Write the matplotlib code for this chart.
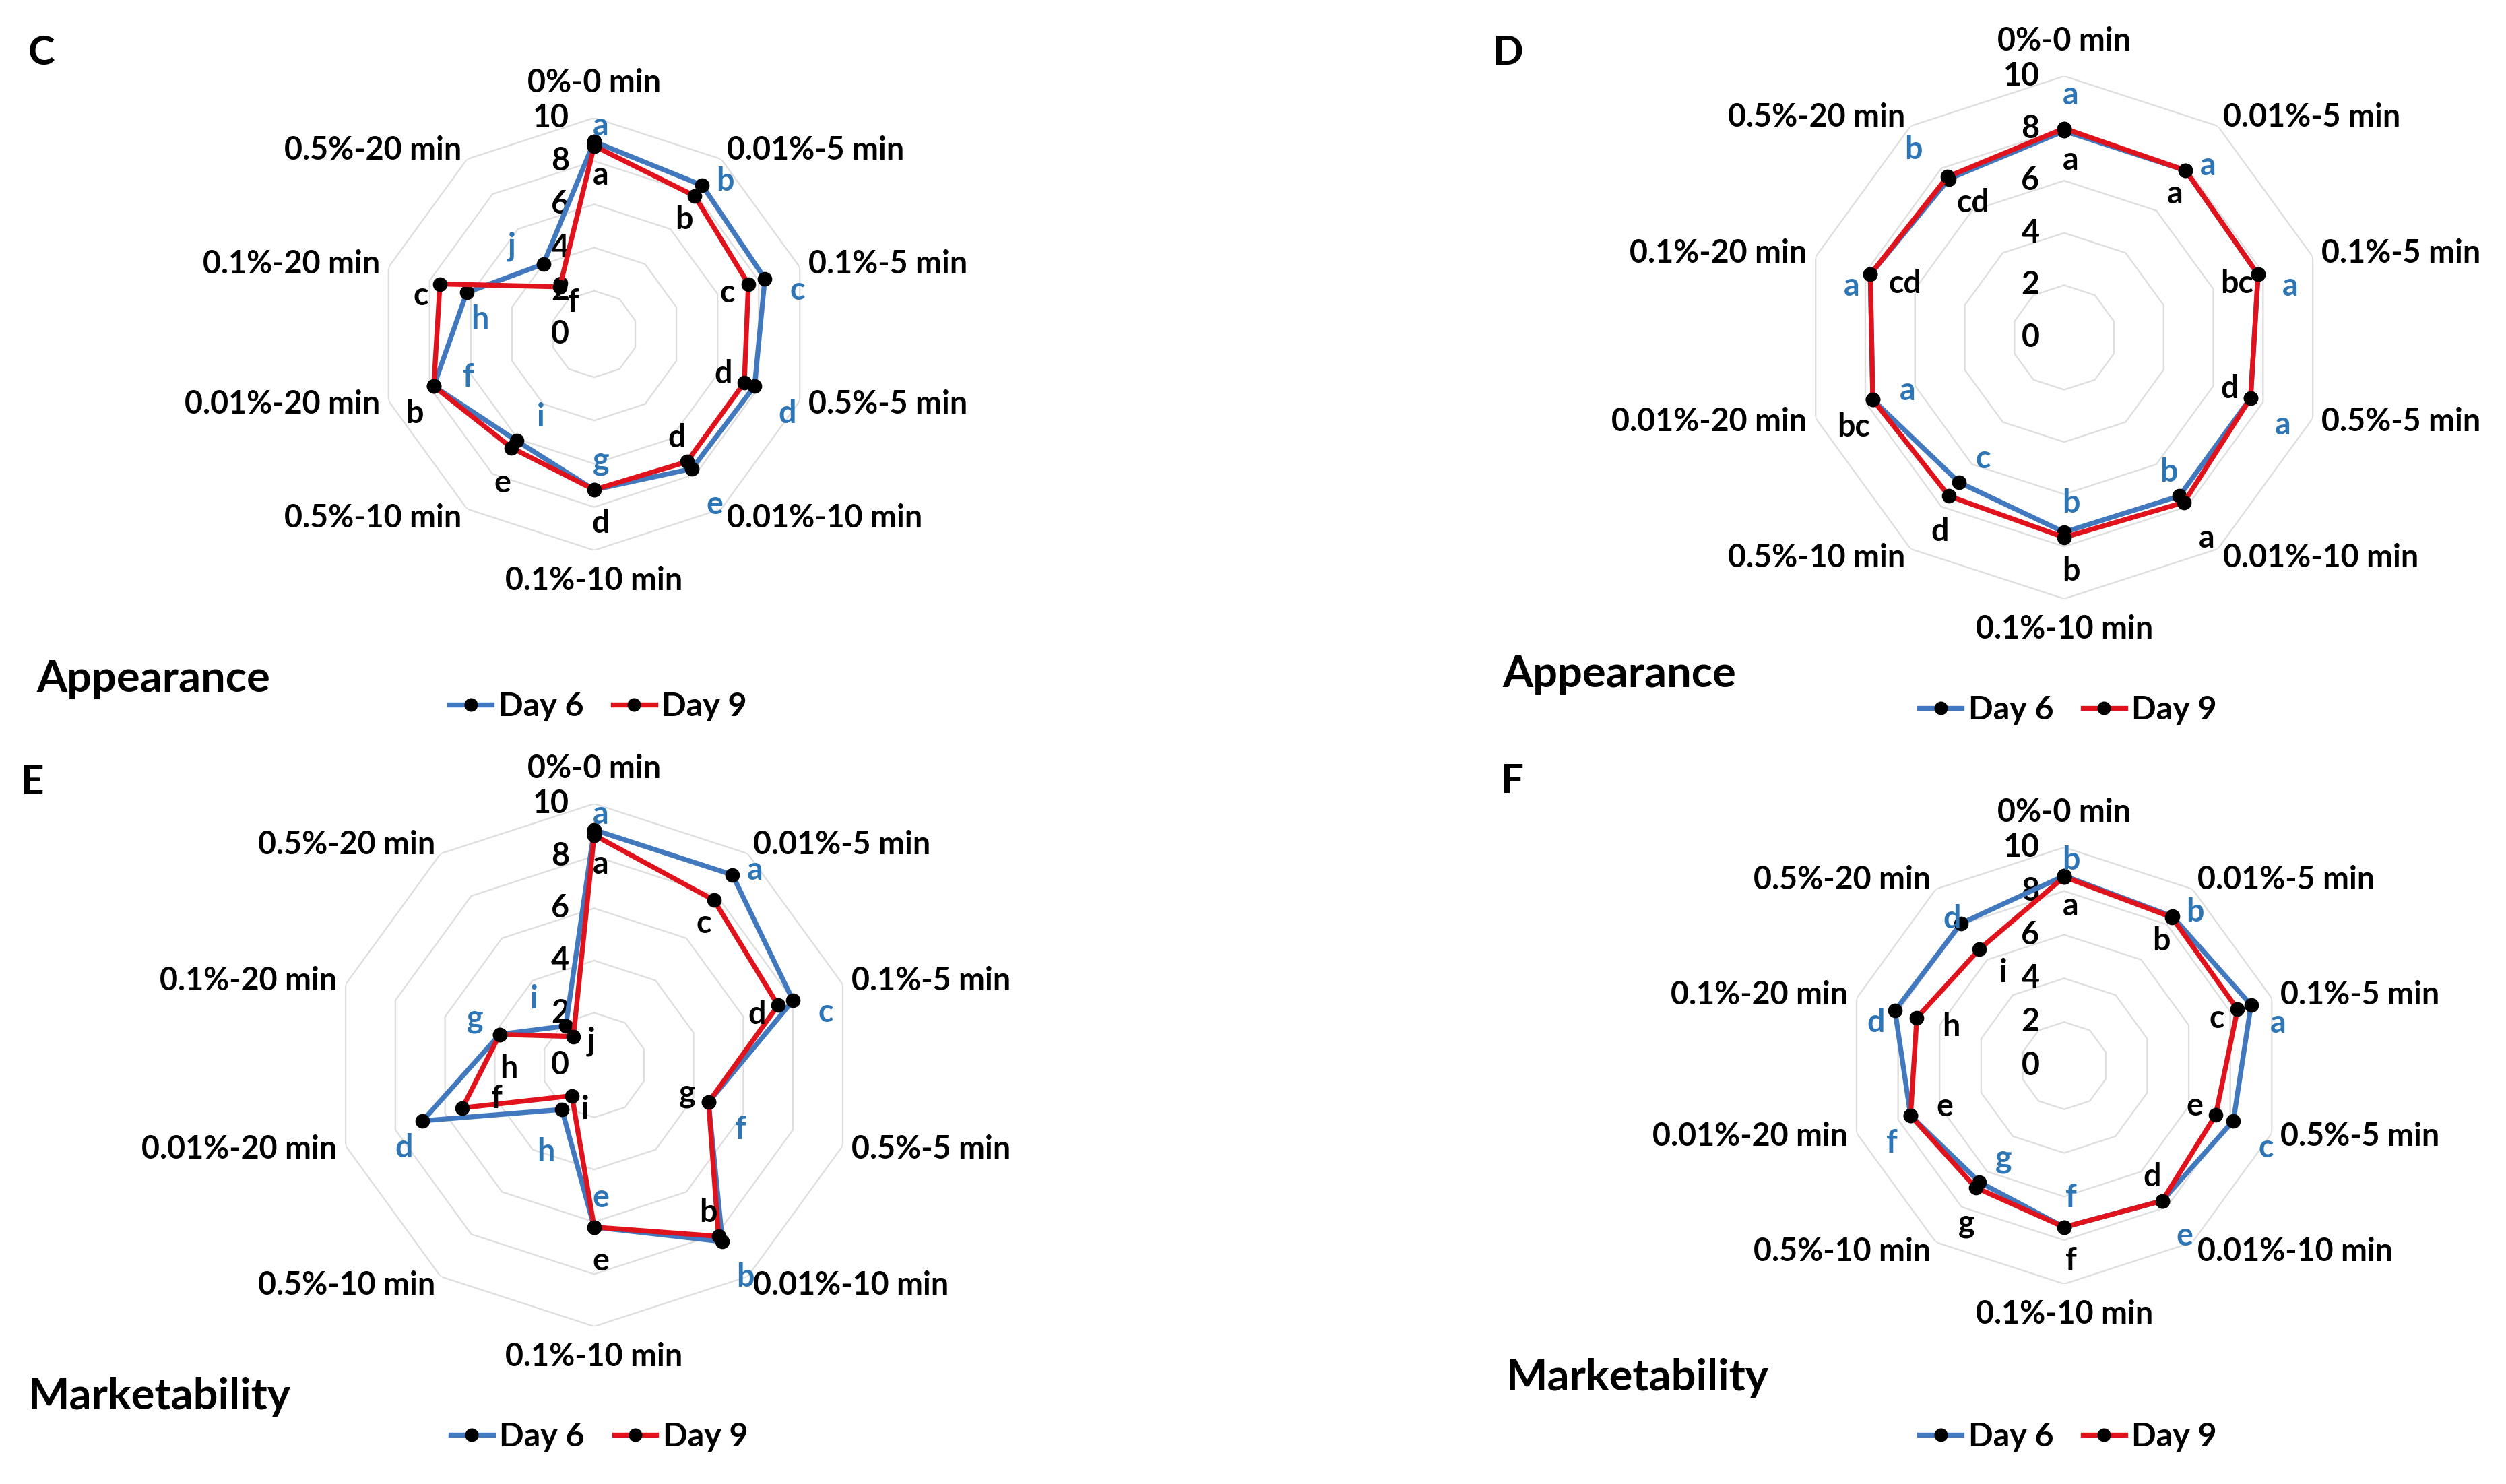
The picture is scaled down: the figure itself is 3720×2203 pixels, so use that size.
import numpy as np
import matplotlib.pyplot as plt
from matplotlib.lines import Line2D

plt.rcParams['font.family'] = ['Lato', 'DejaVu Sans']
plt.rcParams['font.weight'] = 'bold'

categories = ['0%-0 min', '0.01%-5 min', '0.1%-5 min', '0.5%-5 min', '0.01%-10 min',
              '0.1%-10 min', '0.5%-10 min', '0.01%-20 min', '0.1%-20 min', '0.5%-20 min']
ticks = [0, 2, 4, 6, 8, 10]

# C - appearance
C_day6 = [8.9, 8.5, 8.3, 7.8, 7.7, 7.2, 6.1, 7.8, 6.2, 4.0]
C_day9 = [8.7, 7.9, 7.5, 7.3, 7.3, 7.2, 6.5, 7.8, 7.5, 2.7]
C_let6 = ['a', 'b', 'c', 'd', 'e', 'g', 'i', 'f', 'h', 'j']
C_let9 = ['a', 'b', 'c', 'd', 'd', 'd', 'e', 'b', 'c', 'f']

# D - appearance
D_day6 = [7.9, 7.9, 7.8, 7.5, 7.5, 7.45, 6.85, 7.7, 7.8, 7.5]
D_day9 = [8.0, 7.9, 7.8, 7.5, 7.8, 7.65, 7.5, 7.7, 7.8, 7.6]
D_let6 = ['a', 'a', 'a', 'a', 'b', 'b', 'c', 'a', 'a', 'b']
D_let9 = ['a', 'a', 'bc', 'd', 'a', 'b', 'd', 'bc', 'cd', 'cd']

# E - marketability
E_day6 = [9.0, 9.0, 8.0, 4.6, 8.35, 6.2, 2.1, 6.9, 3.8, 1.85]
E_day9 = [8.8, 7.8, 7.4, 4.6, 8.1, 6.2, 1.45, 5.3, 3.8, 1.35]
E_let6 = ['a', 'a', 'c', 'f', 'b', 'e', 'h', 'd', 'g', 'i']
E_let9 = ['a', 'c', 'd', 'g', 'b', 'e', 'i', 'f', 'h', 'j']

# F - marketability
F_day6 = [8.7, 8.45, 9.0, 8.15, 7.65, 7.4, 6.6, 7.4, 8.15, 8.05]
F_day9 = [8.65, 8.4, 8.35, 7.3, 7.65, 7.4, 6.9, 7.4, 7.1, 6.6]
F_let6 = ['b', 'b', 'a', 'c', 'e', 'f', 'g', 'f', 'd', 'd']
F_let9 = ['a', 'b', 'c', 'e', 'd', 'f', 'g', 'e', 'h', 'i']

# which spokes have the Day 9 letter on the outside
C_out9 = [0, 0, 0, 0, 0, 1, 1, 1, 1, 0]
D_out9 = [0, 0, 0, 0, 1, 1, 1, 1, 0, 0]
E_out9 = [0, 0, 0, 0, 0, 1, 0, 0, 0, 0]
F_out9 = [0, 0, 0, 0, 0, 1, 1, 0, 0, 0]

# hand placed letters (offset in points from their point)
nudge = {
    ('C', 9, 'o'): (-14, 8), ('C', 9, 'i'): (6, -7), ('C', 8, 'i'): (6, -12),
    ('D', 9, 'o'): (-15, 12), ('D', 0, 'o'): (3, 15),
    ('E', 9, 'o'): (-14, 12), ('E', 9, 'i'): (8, -2),
    ('E', 6, 'o'): (-7, -19), ('E', 6, 'i'): (6, -6),
    ('E', 8, 'o'): (-11, 7), ('E', 8, 'i'): (4, -15),
    ('F', 2, 'o'): (12, -8),
}

blue = '#4178BE'
red = '#E0121C'
letter_blue = '#2E75B6'
grid_col = '#DEDEDE'
fs = 14

n = len(categories)
angles = np.arange(n) * 2 * np.pi / n

fig = plt.figure(figsize=(15.5, 2203 / 240), dpi=240)


def radar(name, rect, day6, day9, let6, let9, out9):
    ax = fig.add_axes(rect, polar=True)
    ax.set_theta_zero_location('N')
    ax.set_theta_direction(-1)
    ax.set_ylim(0, 10)
    ax.grid(False)
    ax.set_xticks([])
    ax.set_yticks([])
    ax.spines['polar'].set_visible(False)
    ax.patch.set_alpha(0)

    # decagon grid, no spokes
    ring = np.append(angles, angles[0])
    for r in ticks[1:]:
        ax.plot(ring, [r] * (n + 1), color=grid_col, lw=0.7, zorder=1)
    for r in ticks:
        ax.annotate(str(r), xy=(0, r), xytext=(-11, 0), textcoords='offset points',
                    ha='right', va='center', fontsize=fs, zorder=2)

    # category labels
    for a, lab in zip(angles, categories):
        s, c = np.sin(a), np.cos(a)
        if abs(s) < 0.1:
            ha = 'center'
            va = 'bottom' if c > 0 else 'top'
            off = (0, 9 if c > 0 else -7)
        else:
            ha = 'left' if s > 0 else 'right'
            va = 'center'
            off = (s * 4, c * 5)
        ax.annotate(lab, xy=(a, 10), xytext=off, textcoords='offset points',
                    ha=ha, va=va, fontsize=fs, annotation_clip=False)

    v6 = np.append(day6, day6[0])
    v9 = np.append(day9, day9[0])
    ax.plot(ring, v6, color=blue, lw=2.2, marker='o', ms=5.5, mfc='black', mec='black', zorder=3)
    ax.plot(ring, v9, color=red, lw=2.2, marker='o', ms=5.5, mfc='black', mec='black', zorder=4)

    # significance letters
    for k, a in enumerate(angles):
        s, c = np.sin(a), np.cos(a)
        hi = max(day6[k], day9[k])
        lo = min(day6[k], day9[k])
        if out9[k]:
            outer, inner = (let9[k], 'black'), (let6[k], letter_blue)
        else:
            outer, inner = (let6[k], letter_blue), (let9[k], 'black')
        off_o = nudge.get((name, k, 'o'), (s * 12 + 3, c * 11 - 4 - 5 * abs(s)))
        off_i = nudge.get((name, k, 'i'), (-s * 13 + 3, -c * 13))
        ax.annotate(outer[0], xy=(a, hi), xytext=off_o,
                    textcoords='offset points', ha='center', va='center',
                    color=outer[1], fontsize=fs, zorder=5)
        ax.annotate(inner[0], xy=(a, lo), xytext=off_i,
                    textcoords='offset points', ha='center', va='center',
                    color=inner[1], fontsize=fs, zorder=5)
    return ax


radar('C', [0.1508, 0.6292, 0.1726, 0.2914], C_day6, C_day9, C_let6, C_let9, C_out9)
radar('D', [0.7194, 0.5965, 0.2086, 0.3522], D_day6, D_day9, D_let6, D_let9, D_out9)
radar('E', [0.1328, 0.1062, 0.2086, 0.3522], E_day6, E_day9, E_let6, E_let9, E_out9)
radar('F', [0.7366, 0.1348, 0.1742, 0.2942], F_day6, F_day9, F_let6, F_let9, F_out9)

fig.text(0.0113, 0.964, 'C', fontsize=18, va='center')
fig.text(0.5954, 0.964, 'D', fontsize=18, va='center')
fig.text(0.0080, 0.4725, 'E', fontsize=18, va='center')
fig.text(0.5987, 0.4735, 'F', fontsize=18, va='center')

fig.text(0.0145, 0.5424, 'Appearance', fontsize=19.5, va='center')
fig.text(0.5995, 0.5456, 'Appearance', fontsize=19.5, va='center')
fig.text(0.0113, 0.0590, 'Marketability', fontsize=19.5, va='center')
fig.text(0.6010, 0.0717, 'Marketability', fontsize=19.5, va='center')

handles = [Line2D([], [], color=blue, lw=2.2, marker='o', ms=5, mfc='black', mec='black'),
           Line2D([], [], color=red, lw=2.2, marker='o', ms=5, mfc='black', mec='black')]
for x, y in [(0.2387, 0.5238), (0.8253, 0.5216), (0.2392, 0.0318), (0.8253, 0.0318)]:
    fig.legend(handles, ['Day 6', 'Day 9'], loc='center', bbox_to_anchor=(x, y), ncol=2,
               frameon=False, fontsize=14.5, handlelength=1.3, handletextpad=0.2,
               columnspacing=0.9)

fig.savefig('out.png', dpi=240, facecolor='white')
